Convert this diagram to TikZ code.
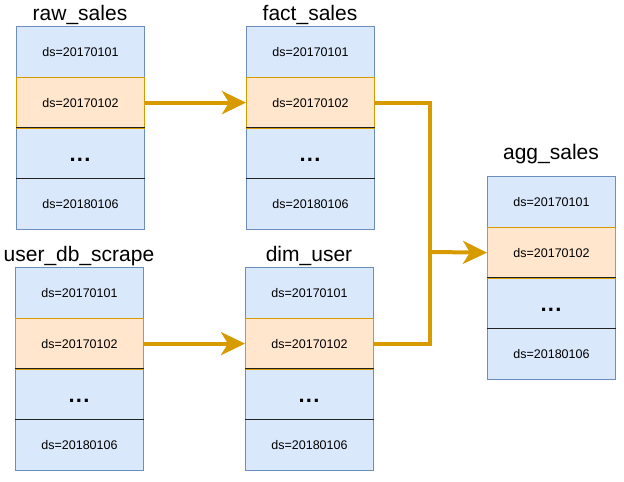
\documentclass[tikz,border=0pt]{standalone}
\usepackage{fontspec}
\setmainfont{Liberation Sans}
\usetikzlibrary{arrows.meta}
\definecolor{bfill}{HTML}{DAE8FC}
\definecolor{bline}{HTML}{6C8EBF}
\definecolor{ofill}{HTML}{FFE6CC}
\definecolor{oline}{HTML}{D79B00}
\definecolor{sep}{HTML}{222222}
\tikzset{
  brow/.style={draw=bline,fill=bfill,line width=1pt,minimum width=128pt,minimum height=50.75pt,inner sep=0pt,anchor=north west,font=\fontsize{12.5}{14}\selectfont},
  orow/.style={brow,draw=oline,fill=ofill},
  ttl/.style={font=\fontsize{21}{24}\selectfont,inner sep=0pt},
  dots/.style={font=\fontsize{22}{24}\selectfont\bfseries,inner sep=0pt,anchor=base},
  flow/.style={draw=oline,line width=4pt,-{Stealth[length=24pt,width=23pt,inset=7pt]}},
  flowline/.style={draw=oline,line width=4pt},
  sepline/.style={draw=sep,line width=1.2pt}
}
\newcommand{\mktable}[5]{%
  % #1 name, #2 x, #3 y top, #4 title, #5 title offset
  \node[ttl] (#1t) at (#2+64,#3-#5) {#4};
  \node[brow] (#1a) at (#2,#3) {ds=20170101};
  \node[brow] (#1c) at (#2,#3+101.5) {};
  \node[brow] (#1d) at (#2,#3+152.25) {ds=20180106};
  \node[orow] (#1b) at (#2,#3+50.75) {ds=20170102};
  \node[dots] (#1e) at (#2+64,#3+135.5) {.\kern1.3pt.\kern1.3pt.};
  \draw[sepline] (#1c.north west) -- (#1c.north east);
  \draw[sepline] (#1d.north west) -- (#1d.north east);
}
\begin{document}
\begin{tikzpicture}[x=1pt,y=-1pt]
\useasboundingbox (0,0) rectangle (624,482);
\mktable{rs}{16}{26}{raw\_sales}{11}
\mktable{fs}{246}{26}{fact\_sales}{11}
\mktable{us}{15}{267}{user\_db\_scrape}{11}
\mktable{du}{245}{267}{dim\_user}{11}
\mktable{ag}{487}{176}{agg\_sales}{22}
\coordinate (j) at (430,252);
\draw[flow] (rsb.east) -- (fsb.west);
\draw[flow] (usb.east) -- (dub.west);
\draw[flowline,line join=miter] (fsb.east) -| (j);
\draw[flowline,line join=miter] (dub.east) -| (j);
\draw[flow] (j) -- (agb.west);
\end{tikzpicture}
\end{document}
